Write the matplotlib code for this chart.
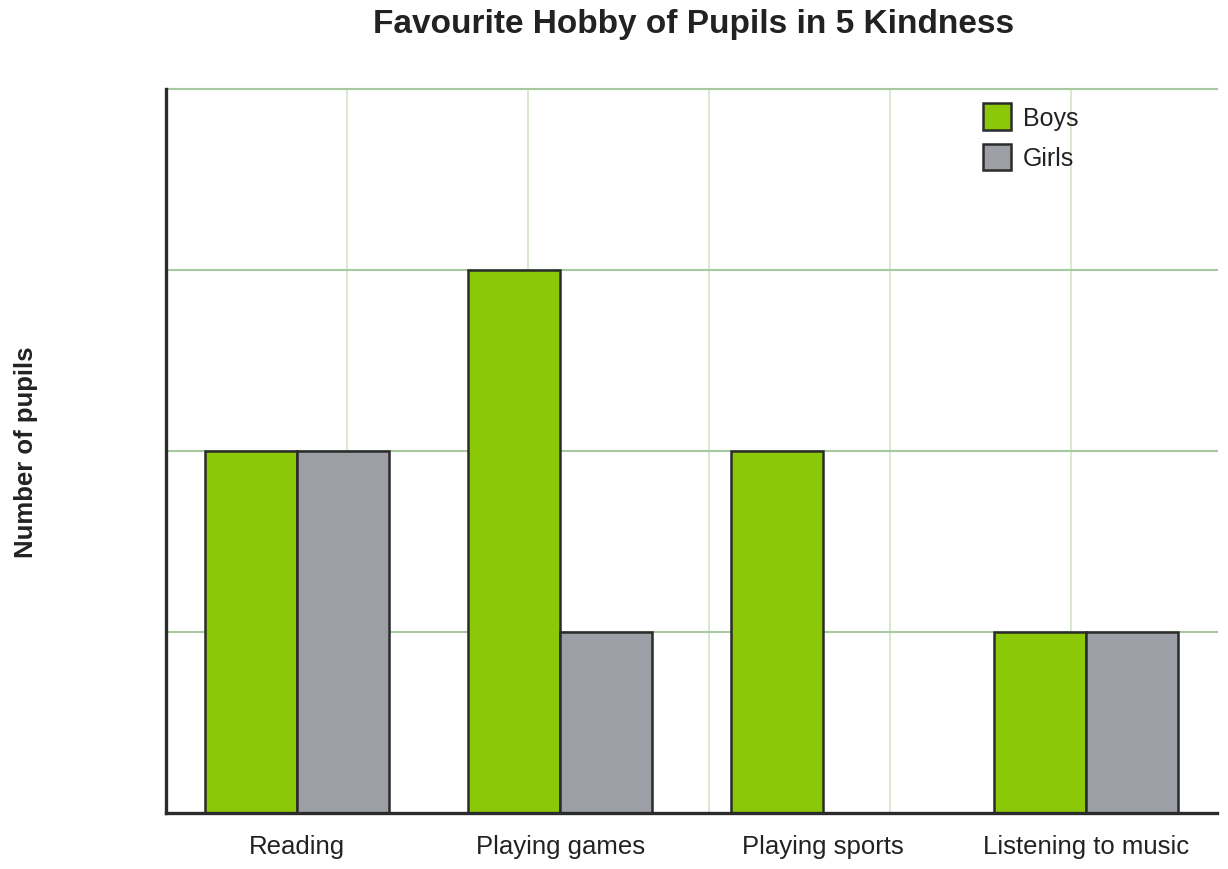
import numpy as np
import matplotlib
matplotlib.use('Agg')
import matplotlib.pyplot as plt

plt.rcParams['font.family'] = ['Liberation Sans', 'DejaVu Sans']

# data
hobbies = ['Reading', 'Playing games', 'Playing sports', 'Listening to music']
boys = [2, 3, 2, 1]
girls = [2, 1, 0, 1]
y_max = 4

green = '#8bc807'
grey = '#9c9fa6'
edge = '#2b2b2b'

fig = plt.figure(figsize=(12.28, 8.7), dpi=100)
ax = fig.add_axes([166 / 1228, 56 / 870, 1051 / 1228, 724 / 870])

x = np.arange(len(hobbies))
w = 0.35
ax.bar(x - w / 2, boys, w, color=green, edgecolor=edge, linewidth=1.8, label='Boys', zorder=3)
ax.bar(x + w / 2, girls, w, color=grey, edgecolor=edge, linewidth=1.8, label='Girls', zorder=3)

ax.set_xlim(-0.5, len(hobbies) - 0.5)
ax.set_ylim(0, y_max)

# grid: horizontal lines at each unit, vertical lines with the same pixel spacing
for yv in range(1, y_max + 1):
  ax.axhline(yv, color='#a6c9a0', linewidth=1.5, zorder=1, clip_on=False)
step = len(hobbies) / 1051 * (724 / y_max)
for xv in np.arange(-0.5 + step, len(hobbies) - 0.5, step):
  ax.axvline(xv, color='#d4e7cb', linewidth=1.3, zorder=0)

ax.set_xticks(x)
ax.set_xticklabels(hobbies, fontsize=18.5, color='#222222')
ax.set_yticks([])
ax.tick_params(axis='x', length=0, pad=15)

for s in ['top', 'right']:
  ax.spines[s].set_visible(False)
for s in ['left', 'bottom']:
  ax.spines[s].set_color(edge)
  ax.spines[s].set_linewidth(2.4)
  ax.spines[s].set_zorder(4)

ax.set_ylabel('Number of pupils', fontsize=18.5, fontweight='bold', color='#222222', labelpad=0)
ax.yaxis.set_label_coords(-0.122, 0.5)

fig.suptitle('Favourite Hobby of Pupils in 5 Kindness', fontsize=24, fontweight='bold',
             color='#222222', x=694 / 1228, y=1 - 25 / 870, va='center')

leg = ax.legend(loc='upper left', bbox_to_anchor=(0.777, 0.98), frameon=False, fontsize=18,
                handlelength=1.12, handleheight=1.25, handletextpad=0.48, labelspacing=0.55,
                borderaxespad=0, borderpad=0)
for t in leg.get_texts():
  t.set_color('#222222')

fig.savefig('out.png', dpi=100)
